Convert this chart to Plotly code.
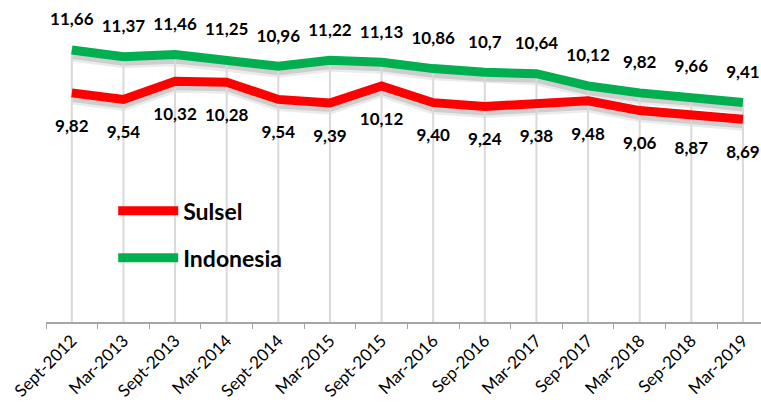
import plotly.graph_objects as go

periods = ['Sept-2012', 'Mar-2013', 'Sept-2013', 'Mar-2014', 'Sept-2014', 'Mar-2015', 'Sept-2015',
           'Mar-2016', 'Sep-2016', 'Mar-2017', 'Sep-2017', 'Mar-2018', 'Sep-2018', 'Mar-2019']
sulsel_lbl = ['9,82', '9,54', '10,32', '10,28', '9,54', '9,39', '10,12',
              '9,40', '9,24', '9,38', '9,48', '9,06', '8,87', '8,69']
indo_lbl = ['11,66', '11,37', '11,46', '11,25', '10,96', '11,22', '11,13',
            '10,86', '10,7', '10,64', '10,12', '9,82', '9,66', '9,41']

sulsel = [float(s.replace(',', '.')) for s in sulsel_lbl]
indo = [float(s.replace(',', '.')) for s in indo_lbl]

FONT = 'Lato'
shift = 0.26  # shadow offset in data units

fig = go.Figure()

# shadows (base y axis, range shifted so they sit a few px lower)
for vals in (sulsel, indo):
    fig.add_trace(go.Scatter(x=periods, y=vals, mode='lines', yaxis='y',
                             line=dict(color='rgba(0,0,0,0.08)', width=11),
                             showlegend=False, hoverinfo='skip'))
    fig.add_trace(go.Scatter(x=periods, y=vals, mode='lines', yaxis='y',
                             line=dict(color='rgba(0,0,0,0.12)', width=6),
                             showlegend=False, hoverinfo='skip'))

# drop lines from the highest series down to the axis
fig.add_trace(go.Scatter(x=periods, y=indo, mode='markers', yaxis='y2',
                         marker=dict(size=1, color='rgba(0,0,0,0)'),
                         error_y=dict(type='data', symmetric=False, array=[0]*len(indo),
                                      arrayminus=indo, width=0, thickness=2, color='#d9d9d9'),
                         showlegend=False, hoverinfo='skip'))

fig.add_trace(go.Scatter(x=periods, y=sulsel, name='Sulsel', mode='lines+markers+text', yaxis='y2',
                         line=dict(color='#ff0000', width=9),
                         marker=dict(size=40, color='rgba(0,0,0,0)'),
                         text=sulsel_lbl, textposition='bottom center', cliponaxis=False,
                         textfont=dict(family=FONT, size=17, color='black', weight='bold'),
                         legendgroup='a'))
fig.add_trace(go.Scatter(x=periods, y=indo, name='Indonesia', mode='lines+markers+text', yaxis='y2',
                         line=dict(color='#00b050', width=9),
                         marker=dict(size=31, color='rgba(0,0,0,0)'),
                         text=indo_lbl, textposition='top center', cliponaxis=False,
                         textfont=dict(family=FONT, size=17, color='black', weight='bold'),
                         legendgroup='b'))

fig.update_layout(
    width=761, height=412,
    margin=dict(l=46, r=0, t=42, b=90),
    plot_bgcolor='white', paper_bgcolor='white',
    font=dict(family=FONT, color='black'),
    xaxis=dict(type='category', range=[-0.5, 13.35], tickson='boundaries', ticks='outside',
               ticklen=5, tickcolor='#a6a6a6', showline=True, linecolor='#a6a6a6', linewidth=2,
               showgrid=False, tickangle=-45, tickfont=dict(family=FONT, size=17), automargin=False),
    yaxis=dict(range=[shift, 12 + shift], visible=False, showgrid=False, zeroline=False,
               automargin=False),
    yaxis2=dict(range=[0, 12], overlaying='y', visible=False, showgrid=False, zeroline=False,
                automargin=False),
    legend=dict(x=0.094, y=0.474, xanchor='left', yanchor='top', bgcolor='rgba(0,0,0,0)',
                font=dict(family=FONT, size=23, weight='bold'), itemwidth=60,
                traceorder='grouped', tracegroupgap=14),
    showlegend=True,
)

# page margin off so the 761x412 figure fills the window
fig.write_html('out.html', config={'displayModeBar': False},
               post_script="document.body.style.margin='0';document.body.style.overflow='hidden';")
